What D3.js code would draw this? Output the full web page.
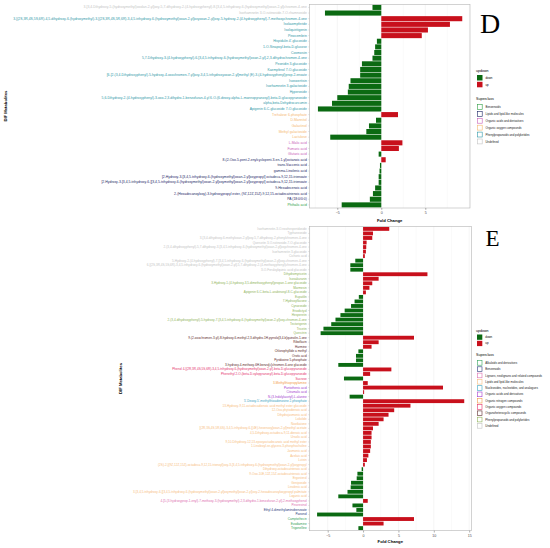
<!DOCTYPE html>
<html>
<head>
<meta charset="utf-8">
<script src="https://cdn.jsdelivr.net/npm/d3@7"></script>
<style>
  body { margin: 0; background: #fff; }
  svg { display: block; font-family: "Liberation Sans", Arial, sans-serif; }
</style>
</head>
<body>
<div id="container"></div>
<script>
/* DATA - panel D */
const dLabels = [
  "3-[3,4-Dihydroxy-5-(hydroxymethyl)oxolan-2-yl]oxy-5,7-dihydroxy-2-(4-hydroxyphenyl)-8-[3,4,5-trihydroxy-6-(hydroxymethyl)oxan-2-yl]chromen-4-one",
  "Isorhamnetin 3-O-rutinoside-7-O-rhamnoside",
  "3-[(2S,3R,4S,5S,6R)-4,5-dihydroxy-6-(hydroxymethyl)-3-[(2S,3R,4S,5R,6R)-3,4,5-trihydroxy-6-(hydroxymethyl)oxan-2-yl]oxyoxan-2-yl]oxy-5-hydroxy-2-(4-hydroxyphenyl)-7-methoxychromen-4-one",
  "Isokaempferide",
  "Isoliquiritigenin",
  "Pinocembrin",
  "Hispidulin 4'-glucoside",
  "1-O-Sinapoyl-beta-D-glucose",
  "Cosmosiin",
  "5,7-Dihydroxy-3-(4-hydroxyphenyl)-6-[3,4,5-trihydroxy-6-(hydroxymethyl)oxan-2-yl]-2,3-dihydrochromen-4-one",
  "Peonidin 3-glucoside",
  "Kaempferol 7-O-glucoside",
  "[6-[2-(3,4-Dihydroxyphenyl)-5-hydroxy-4-oxochromen-7-yl]oxy-3,4,5-trihydroxyoxan-2-yl]methyl (E)-3-(4-hydroxyphenyl)prop-2-enoate",
  "Isoswertisin",
  "Isorhamnetin 3-galactoside",
  "Hyperoside",
  "5,6-Dihydroxy-2-(4-hydroxyphenyl)-3-oxo-2,3-dihydro-1-benzofuran-4-yl 6-O-(6-deoxy-alpha-L-mannopyranosyl)-beta-D-glucopyranoside",
  "alpha,beta-Dehydrocurcumin",
  "Apigenin 6-C-glucoside 7-O-glucoside",
  "Trehalose 6-phosphate",
  "D-Mannitol",
  "Galactinol",
  "Methyl galactoside",
  "Lactulose",
  "L-Malic acid",
  "Fumaric acid",
  "Glutaric acid",
  "8-(2-Oxo-5-pent-2-enylcyclopent-3-en-1-yl)octanoic acid",
  "trans-Vaccenic acid",
  "gamma-Linolenic acid",
  "[2-Hydroxy-3-[3,4,5-trihydroxy-6-(hydroxymethyl)oxan-2-yl]oxypropyl] octadeca-9,12,15-trienoate",
  "[2-Hydroxy-3-[3,4,5-trihydroxy-6-[[3,4,5-trihydroxy-6-(hydroxymethyl)oxan-2-yl]oxymethyl]oxan-2-yl]oxypropyl] octadeca-9,12,15-trienoate",
  "9-Hexadecenoic acid",
  "2-(Hexadecanoyloxy)-3-hydroxypropyl ester, (9Z,12Z,15Z)-9,12,15-octadecatrienoic acid",
  "PA (18:0/0:0)",
  "Phthalic acid"
];
const dValues = [
  -1.0, -6.4, 9.2, 7.8, 5.3, 4.6, -0.5, -0.7, -0.8, -1.0,
  -2.2, -2.4, -2.4, -3.5, -3.7, -3.8, -5.0, -5.6, -7.2, 1.9,
  -0.6, -1.4, -1.7, -5.8, 2.4, 2.0, -0.3, 0.5, -0.15, -0.2,
  -0.3, -0.3, -0.7, -0.95, -1.3, -4.5
];
const dClasses = [
  "Undefined", "Undefined",
  "Phenylpropanoids and polyketides", "Phenylpropanoids and polyketides", "Phenylpropanoids and polyketides",
  "Phenylpropanoids and polyketides", "Phenylpropanoids and polyketides", "Phenylpropanoids and polyketides",
  "Phenylpropanoids and polyketides", "Phenylpropanoids and polyketides", "Phenylpropanoids and polyketides",
  "Phenylpropanoids and polyketides", "Phenylpropanoids and polyketides", "Phenylpropanoids and polyketides",
  "Phenylpropanoids and polyketides", "Phenylpropanoids and polyketides", "Phenylpropanoids and polyketides",
  "Phenylpropanoids and polyketides", "Phenylpropanoids and polyketides",
  "Organic oxygen compounds", "Organic oxygen compounds", "Organic oxygen compounds",
  "Organic oxygen compounds", "Organic oxygen compounds",
  "Organic acids and derivatives", "Organic acids and derivatives", "Organic acids and derivatives",
  "Lipids and lipid-like molecules", "Lipids and lipid-like molecules", "Lipids and lipid-like molecules",
  "Lipids and lipid-like molecules", "Lipids and lipid-like molecules", "Lipids and lipid-like molecules",
  "Lipids and lipid-like molecules", "Lipids and lipid-like molecules",
  "Benzenoids"
];
const dSuperclasses = [
  "Benzenoids", "Lipids and lipid-like molecules", "Organic acids and derivatives",
  "Organic oxygen compounds", "Phenylpropanoids and polyketides", "Undefined"
];
const dTicks = [-5, 0, 5];

/* DATA - panel E */
const eLabels = [
  "Isorhamnetin-3-O-neohesperidoside",
  "Typhaneoside",
  "3-[3,4-dihydroxy-6-methyloxan-2-yl]oxy-5,7-dihydroxy-2-phenylchromen-4-one",
  "Quercetin 3-O-rutinoside-7-O-glucoside",
  "2-(3,4-dihydroxyphenyl)-5,7-dihydroxy-3-[3,4,5-trihydroxy-6-(hydroxymethyl)oxan-2-yl]oxychromen-4-one",
  "Isorhamnetin 3-glucoside",
  "Cichoric acid",
  "5-Hydroxy-2-(4-hydroxyphenyl)-7-[3,4,5-trihydroxy-6-(hydroxymethyl)oxan-2-yl]oxy-chromen-4-one",
  "6-[(2S,3R,4S,5S,6R)-3,4,5-trihydroxy-6-(hydroxymethyl)oxan-2-yl]-5,7-dihydroxy-2-(4-methoxyphenyl)chromen-4-one",
  "3-O-Feruloylquinic acid glucoside",
  "Dihydromyricetin",
  "Isosakuranin",
  "3-Hydroxy-1-(4-hydroxy-3,5-dimethoxyphenyl)propan-1-one glucoside",
  "Marmesin",
  "Apigenin 6-C-beta-L-arabinosyl-8-C-glucoside",
  "Eupatilin",
  "7-Hydroxyflavone",
  "Cynaroside",
  "Eriodictyol",
  "Hesperetin",
  "2-(3,4-dihydroxyphenyl)-5-hydroxy-7-[3,4,5-trihydroxy-6-(hydroxymethyl)oxan-2-yl]oxy-chromen-4-one",
  "Tectorigenin",
  "Tricetin",
  "Quercitrin",
  "9-(2-oxochromen-3-yl)-8-hydroxy-6-methyl-2,3-dihydro-1H-pyrrolo[3,4-b]quinolin-1-one",
  "Riboflavin",
  "Harmine",
  "Chlorophyllide a methyl",
  "Orotic acid",
  "Pyridoxine 5-phosphate",
  "3-hydroxy-4-methoxy-6H-benzo[c]chromen-6-one glucoside",
  "Phenol 4-[(2R,3R,4S,5S,6R)-3,4,5-trihydroxy-6-(hydroxymethyl)oxan-2-yl]-beta-D-glucopyranoside",
  "Phenethyl 2-O-(beta-D-xylopyranosyl)-beta-D-glucopyranoside",
  "Sucrose",
  "3-Methylthiopropylamine",
  "Pantothenic acid",
  "Citramalic acid",
  "N-(3-Indolylacetyl)-L-alanine",
  "5'-Deoxy-5'-methylthioadenosine 2-phosphate",
  "13-Hydroxy-9,11-octadecadienoic acid methyl ester glucoside",
  "12-Oxo-phytodienoic acid",
  "Dihydrojasmonic acid",
  "Loliolide",
  "Nootkatone",
  "[(2R,3S,4S,5R,6S)-3,4,5-trihydroxy-6-[(4E)-hexenoxy]oxan-2-yl]methyl acetate",
  "4,5-Dihydroxy-octadeca-9,11-dienoic acid",
  "Ursolic acid",
  "9,10-Dihydroxy-12,13-epoxyoctadecanoic acid methyl ester",
  "1-Linoleoyl-sn-glycero-3-phosphocholine",
  "Jasmonic acid",
  "Azelaic acid",
  "Lutein",
  "(2S)-2-[(9Z,12Z,15Z)-octadeca-9,12,15-trienoyl]oxy-3-[3,4,5-trihydroxy-6-(hydroxymethyl)oxan-2-yl]oxypropyl",
  "Dihydroxy-octadecatrienoic acid",
  "9-Oxo-10E,12Z,15Z-octadecatrienoic acid",
  "Ergosterol",
  "Geniposide",
  "Linolenic acid",
  "3-[3,4,5-trihydroxy-6-[[3,4,5-trihydroxy-6-(hydroxymethyl)oxan-2-yl]oxymethyl]oxan-2-yl]oxy-2-hexadecanoyloxypropyl palmitate",
  "Loganic acid",
  "4-[5-(3-hydroxyprop-1-enyl)-7-methoxy-3-(hydroxymethyl)-2,3-dihydro-1-benzofuran-2-yl]-2-methoxyphenol",
  "Pinoresinol",
  "Ethyl 4-dimethylaminobenzoate",
  "Paeonol",
  "Camptothecin",
  "Evodiamine",
  "Trigonelline"
];
const eValues = [
  3.7, 1.4, 1.3, 0.5, 0.45, 0.4, 0.25, -1.1, -1.8, -1.8,
  9.1, 2.2, 1.3, 0.9, 0.4, -0.6, -1.2, -1.7, -2.6, -3.2,
  -3.9, -4.5, -5.6, -6.0, 7.2, 2.2, 1.2, -0.66, -1.0, -1.0,
  -3.5, 4.0, 1.0, -2.7, 0.66, 11.3, 0.15, -1.9, 14.3, 6.7,
  4.4, 3.6, 2.9, 2.2, 1.4, 1.2, 1.2, 1.1, 1.1, 1.0,
  0.75, 0.55, 0.25, -0.2, -0.8, -0.9, -1.7, -1.75, -2.2, -3.5,
  0.66, -1.5, -0.95, -6.5, 7.2, 2.9, -0.66
];
const eClasses = [].concat(
  Array(10).fill("Undefined"),
  Array(14).fill("Phenylpropanoids and polyketides"),
  Array(7).fill("Organoheterocyclic compounds"),
  Array(3).fill("Organic oxygen compounds"),
  ["Organic nitrogen compounds"],
  Array(3).fill("Organic acids and derivatives"),
  ["Nucleosides, nucleotides, and analogues"],
  Array(21).fill("Lipids and lipid-like molecules"),
  Array(2).fill("Lignans, neolignans and related compounds"),
  Array(2).fill("Benzenoids"),
  Array(3).fill("Alkaloids and derivatives")
);
const eSuperclasses = [
  "Alkaloids and derivatives", "Benzenoids", "Lignans, neolignans and related compounds",
  "Lipids and lipid-like molecules", "Nucleosides, nucleotides, and analogues",
  "Organic acids and derivatives", "Organic nitrogen compounds", "Organic oxygen compounds",
  "Organoheterocyclic compounds", "Phenylpropanoids and polyketides", "Undefined"
];
const eTicks = [-5, 0, 5, 10, 15];

/* COLOURS */
const updownColor = { down: "#0b6a12", up: "#c8101c" };
const dColor = {
  "Benzenoids": "#2f9e44",
  "Lipids and lipid-like molecules": "#1c2766",
  "Organic acids and derivatives": "#c860b8",
  "Organic oxygen compounds": "#f5b870",
  "Phenylpropanoids and polyketides": "#2f98a8",
  "Undefined": "#c4c4c4"
};
const eColor = {
  "Alkaloids and derivatives": "#33a35a",
  "Benzenoids": "#2b3a7c",
  "Lignans, neolignans and related compounds": "#dd6fb0",
  "Lipids and lipid-like molecules": "#f7bd80",
  "Nucleosides, nucleotides, and analogues": "#3aa3c2",
  "Organic acids and derivatives": "#a63fd0",
  "Organic nitrogen compounds": "#f29a48",
  "Organic oxygen compounds": "#e5336c",
  "Organoheterocyclic compounds": "#5c2a2a",
  "Phenylpropanoids and polyketides": "#90b45a",
  "Undefined": "#c4c4c4"
};

const svg = d3.select("#container")
  .append("svg")
  .attr("width", 550)
  .attr("height", 548);

function drawPanel(p) {
  const xScale = d3.scaleLinear().domain(p.domain).range([p.left, p.right]);
  const yScale = d3.scaleBand().domain(p.labels).range([p.top, p.bottom]).padding(p.pad);
  const g = svg.append("g");

  // grid
  const minor = d3.range(Math.ceil(p.domain[0] / 2.5) * 2.5, p.domain[1], 2.5);
  g.selectAll(".grid")
    .data(minor)
    .join("line")
    .attr("x1", d => xScale(d)).attr("x2", d => xScale(d))
    .attr("y1", p.top).attr("y2", p.bottom)
    .attr("stroke", d => p.ticks.includes(d) ? "#ebebeb" : "#f4f4f4")
    .attr("stroke-width", 0.5);

  // bars
  const rows = p.labels.map((l, i) => ({ label: l, value: p.values[i] }));
  g.selectAll(".bar")
    .data(rows)
    .join("rect")
    .attr("x", d => xScale(Math.min(0, d.value)))
    .attr("y", d => yScale(d.label))
    .attr("width", d => Math.abs(xScale(d.value) - xScale(0)))
    .attr("height", yScale.bandwidth())
    .attr("fill", d => d.value < 0 ? updownColor.down : updownColor.up);

  // border
  g.append("rect")
    .attr("x", p.left).attr("y", p.top)
    .attr("width", p.right - p.left).attr("height", p.bottom - p.top)
    .attr("fill", "none").attr("stroke", "#b5b5b5").attr("stroke-width", 0.6);

  // y axis labels
  const yAxis = g.append("g")
    .attr("transform", `translate(${p.left},0)`)
    .call(d3.axisLeft(yScale).tickSize(1).tickPadding(1.5));
  yAxis.select(".domain").remove();
  yAxis.selectAll("line").attr("stroke", "#999").attr("stroke-width", 0.3);
  yAxis.selectAll("text")
    .style("font-size", p.labelSize + "px")
    .style("font-family", "Liberation Sans, Arial, sans-serif")
    .attr("fill", (d, i) => p.colors[p.classes[i]]);

  // x axis
  const xAxis = g.append("g")
    .attr("transform", `translate(0,${p.bottom})`)
    .call(d3.axisBottom(xScale).tickValues(p.ticks).tickSize(1.8).tickPadding(1.5));
  xAxis.select(".domain").remove();
  xAxis.selectAll("line").attr("stroke", "#333").attr("stroke-width", 0.4);
  xAxis.selectAll("text")
    .style("font-size", "3.6px")
    .style("font-family", "Liberation Sans, Arial, sans-serif")
    .attr("fill", "#4d4d4d");

  g.append("text")
    .attr("x", (p.left + p.right) / 2)
    .attr("y", p.xTitleY)
    .attr("text-anchor", "middle")
    .style("font-size", "4.2px")
    .style("font-weight", "bold")
    .text("Fold Change");

  g.append("text")
    .attr("transform", `translate(${p.yTitleX},${(p.top + p.bottom) / 2}) rotate(-90)`)
    .attr("text-anchor", "middle")
    .style("font-size", "4.2px")
    .style("font-weight", "bold")
    .text("DIF Metabolites");

  // panel letter
  g.append("text")
    .attr("x", p.letterX).attr("y", p.letterY)
    .style("font-family", "Liberation Serif, Times New Roman, serif")
    .style("font-size", p.letterSize + "px")
    .text(p.letter);

  // legend
  const lg = g.append("g").attr("transform", `translate(${p.legX},${p.legY})`);
  lg.append("text").attr("x", 0).attr("y", 0).style("font-size", "3.6px").text("updown");
  ["down", "up"].forEach((k, i) => {
    lg.append("rect")
      .attr("x", 1).attr("y", 3 + i * p.keyStep)
      .attr("width", p.keySize).attr("height", p.keySize)
      .attr("fill", updownColor[k]);
    lg.append("text")
      .attr("x", p.keySize + 4).attr("y", 3 + i * p.keyStep + p.keySize / 2 + 1)
      .style("font-size", "2.9px").text(k);
  });
  lg.append("text").attr("x", 0).attr("y", p.superY).style("font-size", "3.6px").text("Superclass");
  p.superclasses.forEach((k, i) => {
    const y = p.superY + 4.5 + i * p.boxStep;
    lg.append("rect")
      .attr("x", 1.3).attr("y", y)
      .attr("width", p.keySize - 0.6).attr("height", p.keySize - 0.6)
      .attr("fill", "#fff").attr("stroke", p.colors[k]).attr("stroke-width", 0.6);
    lg.append("text")
      .attr("x", p.keySize + 4).attr("y", y + p.keySize / 2 + 0.8)
      .style("font-size", "2.9px").attr("fill", "#222").text(k);
  });
}

drawPanel({
  labels: dLabels, values: dValues, classes: dClasses, colors: dColor, superclasses: dSuperclasses,
  ticks: dTicks, domain: [-8.18, 10.08],
  left: 309.3, right: 470, top: 4.3, bottom: 208, pad: 0.1, labelSize: 3.4,
  xTitleY: 222, yTitleX: 7, letter: "D", letterX: 480, letterY: 32.5, letterSize: 28,
  legX: 476, legY: 72, keySize: 5.5, keyStep: 6.8, superY: 28, boxStep: 6.9
});

drawPanel({
  labels: eLabels, values: eValues, classes: eClasses, colors: eColor, superclasses: eSuperclasses,
  ticks: eTicks, domain: [-7.6, 15.3],
  left: 309.3, right: 471.3, top: 226.3, bottom: 530.7, pad: 0.15, labelSize: 3.1,
  xTitleY: 543, yTitleX: 122, letter: "E", letterX: 485.5, letterY: 245.5, letterSize: 23,
  legX: 476, legY: 331.5, keySize: 5.3, keyStep: 6.3, superY: 24.5, boxStep: 6.3
});
</script>
</body>
</html>
